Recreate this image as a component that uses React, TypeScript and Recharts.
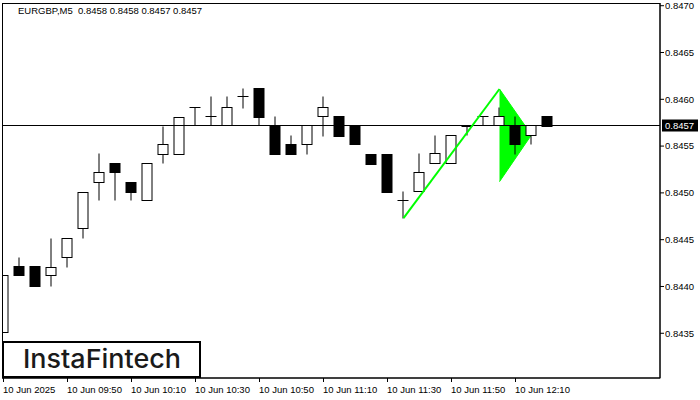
import React from 'react';
import {
  ComposedChart,
  Bar,
  Line,
  Area,
  XAxis,
  YAxis,
  ReferenceLine,
} from 'recharts';

// EURGBP M5, 10 Jun 2025
const times = [
  '09:30', '09:35', '09:40', '09:45', '09:50', '09:55', '10:00', '10:05', '10:10', '10:15',
  '10:20', '10:25', '10:30', '10:35', '10:40', '10:45', '10:50', '10:55', '11:00', '11:05',
  '11:10', '11:15', '11:20', '11:25', '11:30', '11:35', '11:40', '11:45', '11:50', '11:55',
  '12:00', '12:05', '12:10', '12:15', '12:20',
];
const opens = [
  0.84351, 0.84422, 0.84422, 0.84412, 0.84432, 0.84462, 0.84512, 0.84532, 0.84512, 0.84492,
  0.84542, 0.84542, 0.84592, 0.84582, 0.84573, 0.84603, 0.84612, 0.84573, 0.84552, 0.84552,
  0.84582, 0.84582, 0.84573, 0.84542, 0.84542, 0.84492, 0.84502, 0.84532, 0.84532, 0.84572,
  0.84582, 0.84573, 0.84573, 0.84562, 0.84582,
];
const highs = [
  0.84412, 0.84432, 0.84422, 0.84452, 0.84452, 0.84501, 0.84543, 0.84532, 0.84512, 0.84532,
  0.84572, 0.84581, 0.84592, 0.84603, 0.84603, 0.84612, 0.84612, 0.84582, 0.84562, 0.84573,
  0.84603, 0.84582, 0.84573, 0.84542, 0.84542, 0.84502, 0.84543, 0.84562, 0.84562, 0.84572,
  0.84582, 0.84592, 0.84582, 0.84573, 0.84582,
];
const lows = [
  0.84351, 0.84412, 0.84401, 0.84401, 0.84421, 0.84452, 0.84492, 0.84492, 0.84492, 0.84492,
  0.84532, 0.84542, 0.84573, 0.84573, 0.84573, 0.84591, 0.84573, 0.84542, 0.84542, 0.84542,
  0.84561, 0.84561, 0.84552, 0.84531, 0.84501, 0.84473, 0.84502, 0.84532, 0.84532, 0.84562,
  0.84573, 0.84573, 0.84542, 0.84552, 0.84572,
];
const closes = [
  0.84412, 0.84412, 0.84401, 0.84421, 0.84452, 0.84501, 0.84522, 0.84522, 0.84501, 0.84532,
  0.84552, 0.84581, 0.84592, 0.84582, 0.84592, 0.84603, 0.84581, 0.84542, 0.84542, 0.84573,
  0.84592, 0.84561, 0.84552, 0.84531, 0.84501, 0.84492, 0.84522, 0.84543, 0.84562, 0.84572,
  0.84582, 0.84582, 0.84552, 0.84573, 0.84572,
];

// bullish flag: pole from bar 25 low to bar 31, flag triangle 31 -> 33
const pole = [
  { i: 25, v: 0.84473 },
  { i: 31, v: 0.84611 },
];
const flag = [
  { i: 31, lo: 0.84512, hi: 0.84611 },
  { i: 33, lo: 0.84562, hi: 0.84562 },
];

const priceTicks = [0.8435, 0.844, 0.8445, 0.845, 0.8455, 0.846, 0.8465, 0.847];
const timeTicks = [0, 4, 8, 12, 16, 20, 24, 28, 32];
const timeTickLabels = [
  '10 Jun 2025', '10 Jun 09:50', '10 Jun 10:10', '10 Jun 10:30', '10 Jun 10:50',
  '10 Jun 11:10', '10 Jun 11:30', '10 Jun 11:50', '10 Jun 12:10',
];
const lastPrice = 0.84572;
const header = 'EURGBP,M5  0.8458 0.8458 0.8457 0.8457';

const xDomain = [-0.09375, 41.03125];
const yDomain = [0.843022, 0.847029];

const data = times.map((t, i) => {
  const p = pole.find((d) => d.i === i);
  const f = flag.find((d) => d.i === i);
  return {
    i,
    t,
    o: opens[i],
    h: highs[i],
    l: lows[i],
    c: closes[i],
    range: [lows[i], highs[i]],
    pole: p ? p.v : null,
    flag: f ? [f.lo, f.hi] : null,
  };
});

const font = '"Liberation Sans", Arial, sans-serif';

const Candle = (props: any) => {
  const { x, y, width, height, payload } = props;
  if (!payload || width == null) return null;
  const { o, h, l, c } = payload;
  const span = h - l;
  const py = (v: number) => (span ? y + ((h - v) / span) * height : y);
  const cx = x + width / 2;
  const top = Math.round(py(Math.max(o, c))) + 0.5;
  const bot = Math.round(py(Math.min(o, c))) + 0.5;
  const wt = Math.round(py(h)) + 0.5;
  const wb = Math.round(py(l)) + 0.5;
  const up = c > o;
  return (
    <g>
      <line x1={cx} x2={cx} y1={wt} y2={wb} stroke="#000" strokeWidth={1} />
      {top === bot ? (
        <line x1={x} x2={x + width} y1={top} y2={top} stroke="#000" strokeWidth={1} />
      ) : (
        <rect
          x={x + 0.5}
          y={top}
          width={width - 1}
          height={bot - top}
          fill={up ? '#fff' : '#000'}
          stroke="#000"
          strokeWidth={1}
        />
      )}
    </g>
  );
};

const TimeTick = (props: any) => {
  const { x, y, payload } = props;
  const idx = timeTicks.indexOf(payload.value);
  return (
    <text x={x - 0.5} y={y + 9} textAnchor="start" fontSize={9.5} fontFamily={font} fill="#000">
      {timeTickLabels[idx]}
    </text>
  );
};

const PriceTag = (props: any) => {
  const vb = props.viewBox;
  if (!vb) return null;
  const x = vb.x + vb.width + 2;
  return (
    <g>
      <rect x={x} y={vb.y - 6} width={36} height={12} fill="#000" />
      <text x={x + 3} y={vb.y + 3.5} fontSize={9.5} fontFamily={font} fill="#fff">
        {lastPrice.toFixed(4)}
      </text>
    </g>
  );
};

export default function App() {
  return (
    <div style={{ position: 'absolute', left: 0, top: 0, width: 700, height: 400, background: '#fff' }}>
      <ComposedChart
        width={700}
        height={400}
        data={data}
        margin={{ top: 3, right: 0, bottom: 0, left: 2 }}
      >
        <XAxis
          dataKey="i"
          type="number"
          domain={xDomain}
          allowDataOverflow
          ticks={timeTicks}
          interval={0}
          height={22}
          tickSize={4}
          tick={<TimeTick />}
          axisLine={{ stroke: '#000' }}
          tickLine={{ stroke: '#000' }}
        />
        <YAxis
          orientation="right"
          type="number"
          domain={yDomain}
          allowDataOverflow
          ticks={priceTicks}
          interval={0}
          width={40}
          tickSize={4}
          tickMargin={1}
          tickFormatter={(v: number) => v.toFixed(4)}
          tick={{ fill: '#000', fontSize: 9.5, fontFamily: font }}
          axisLine={{ stroke: '#000' }}
          tickLine={{ stroke: '#000' }}
        />
        <Area
          dataKey="flag"
          connectNulls
          fill="#00ff00"
          fillOpacity={1}
          stroke="#00ff00"
          strokeWidth={1}
          isAnimationActive={false}
          dot={false}
          activeDot={false}
        />
        <ReferenceLine y={lastPrice} stroke="#000" strokeWidth={1} label={<PriceTag />} />
        <Bar dataKey="range" barSize={11} shape={<Candle />} isAnimationActive={false} />
        <Line
          dataKey="pole"
          connectNulls
          stroke="#00ff00"
          strokeWidth={2}
          dot={false}
          activeDot={false}
          isAnimationActive={false}
        />
      </ComposedChart>
      <svg
        width={700}
        height={400}
        style={{ position: 'absolute', left: 0, top: 0, pointerEvents: 'none' }}
      >
        <rect x={2.5} y={3.5} width={657.5} height={374.5} fill="none" stroke="#000" strokeWidth={1} />
        <text x={18} y={13.5} fontSize={9.5} fontFamily={font} fill="#000" style={{ whiteSpace: 'pre' }}>
          {header}
        </text>
        <rect x={3} y={342} width={197} height={35} fill="#fff" stroke="#000" strokeWidth={2} />
        <text
          x={23}
          y={368}
          fontSize={26}
          fontFamily="Inter, Lato, sans-serif"
          fontWeight={500}
          fill="#1a1a1a"
          textLength={158}
          lengthAdjust="spacingAndGlyphs"
        >
          InstaFintech
        </text>
      </svg>
    </div>
  );
}
